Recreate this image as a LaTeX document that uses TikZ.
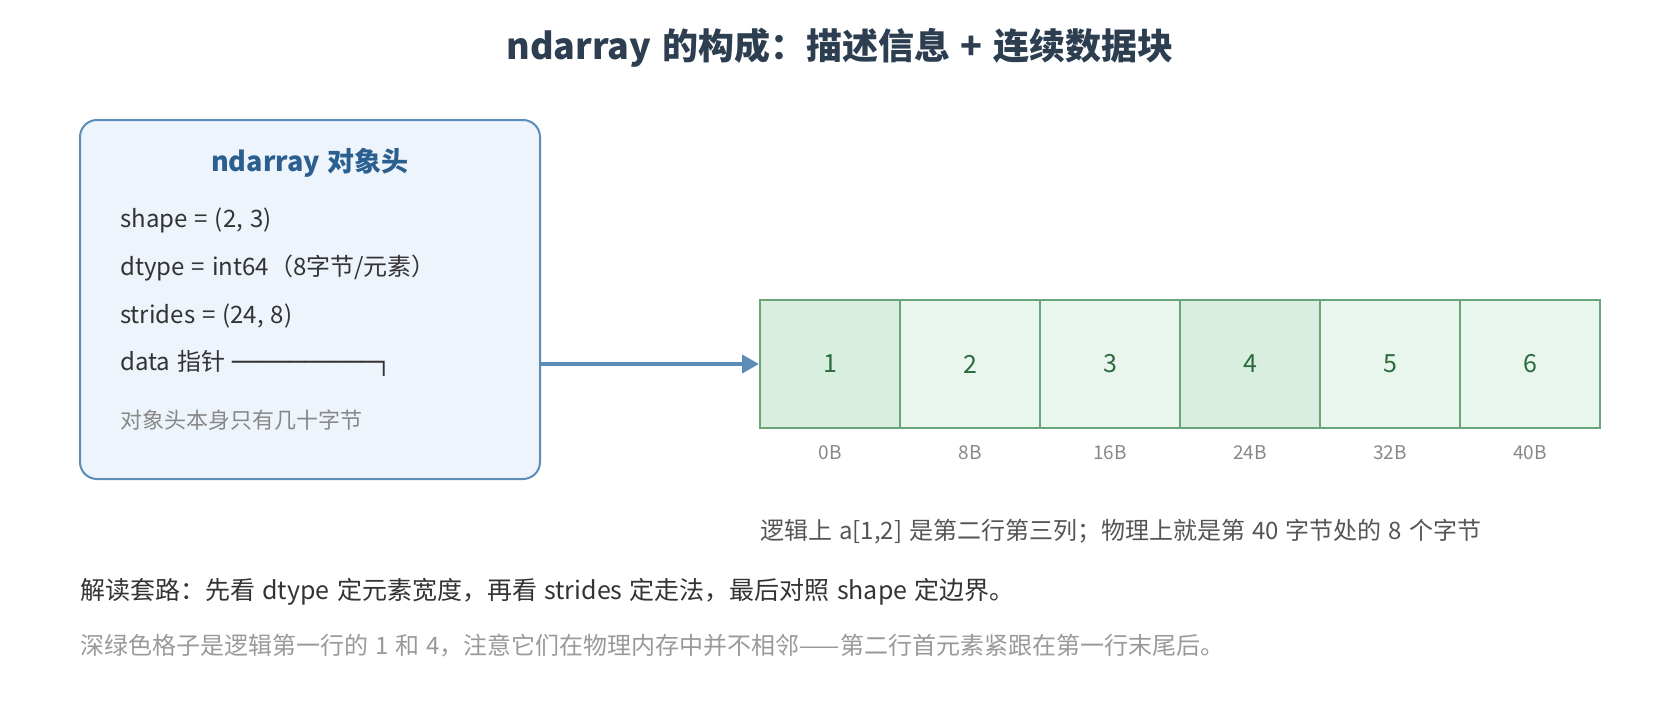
\documentclass[tikz,border=0pt]{standalone}
\usepackage{fontspec}
\setmainfont[WordSpace=1.3]{Noto Sans CJK SC}
\newfontfamily\boxfont{DejaVu Sans}
\usepackage{tikz}
\usetikzlibrary{arrows.meta}
\definecolor{titleink}{RGB}{44,62,80}
\definecolor{hdrblue}{RGB}{91,141,184}
\definecolor{hdrfill}{RGB}{238,244,251}
\definecolor{hdrtitle}{RGB}{42,95,143}
\definecolor{bodyink}{RGB}{51,51,51}
\definecolor{logicink}{RGB}{85,85,85}
\definecolor{noteink}{RGB}{136,136,136}
\definecolor{hintink}{RGB}{153,153,153}
\definecolor{cellgreen}{RGB}{106,165,122}
\definecolor{celldark}{RGB}{216,238,222}
\definecolor{celllight}{RGB}{233,246,237}
\definecolor{digitgreen}{RGB}{45,106,62}

\begin{document}
\begin{tikzpicture}[x=1pt, y=-1pt,
	field/.style={anchor=west, inner sep=0pt, text=bodyink, font=\fontsize{24pt}{29pt}\selectfont},
	cell/.style={draw=cellgreen, line width=2pt, minimum width=140pt, minimum height=128pt, inner sep=0pt, text=digitgreen, font=\fontsize{25pt}{29pt}\selectfont},
	offset/.style={inner sep=0pt, text=noteink, font=\fontsize{19pt}{22pt}\selectfont}]

	\useasboundingbox (0,0) rectangle (1680,720);

	% title
	\node[font=\fontsize{36pt}{40pt}\selectfont\bfseries, text=titleink] (title) at (840,48) {ndarray 的构成：描述信息 + 连续数据块};

	% header box
	\node[draw=hdrblue, fill=hdrfill, line width=2pt, rounded corners=17pt, minimum width=460pt, minimum height=359pt] (hdr) at (310,299.5) {};
	\node[font=\fontsize{27pt}{31pt}\selectfont\bfseries, text=hdrtitle] (hdrname) at (310,163) {ndarray 对象头};

	\node[field] (shape) at (120,220) {shape = (2, 3)};
	\node[field] (dtype) at (120,268) {dtype = int64（8字节/元素）};
	\node[field] (strides) at (120,316) {strides = (24, 8)};
	\node[field] (ptr) at (120,363) {data 指针 {\boxfont\fontsize{24pt}{29pt}\selectfont ──────────┐}};
	\node[field, text=noteink, font=\fontsize{22pt}{26pt}\selectfont] (size) at (120,420) {对象头本身只有几十字节};

	% data block
	\node[cell, fill=celldark] (c1) at (830,364) {1};
	\node[cell, fill=celllight] (c2) at (970,364) {2};
	\node[cell, fill=celllight] (c3) at (1110,364) {3};
	\node[cell, fill=celldark] (c4) at (1250,364) {4};
	\node[cell, fill=celllight] (c5) at (1390,364) {5};
	\node[cell, fill=celllight] (c6) at (1530,364) {6};

	\node[offset] (o1) at (830,453) {0B};
	\node[offset] (o2) at (970,453) {8B};
	\node[offset] (o3) at (1110,453) {16B};
	\node[offset] (o4) at (1250,453) {24B};
	\node[offset] (o5) at (1390,453) {32B};
	\node[offset] (o6) at (1530,453) {40B};

	% data pointer
	\draw[line width=4pt, color=hdrblue, -{Triangle[length=17pt, width=18pt]}] (hdr.east |- c1.west) -- (c1.west);

	% notes
	\node[field, text=logicink, font=\fontsize{24pt}{28pt}\selectfont] (logic) at (760,532) {逻辑上 a[1,2] 是第二行第三列；物理上就是第 40 字节处的 8 个字节};
	\node[field, font=\fontsize{25pt}{30pt}\selectfont] (howto) at (80,592) {解读套路：先看 dtype 定元素宽度，再看 strides 定走法，最后对照 shape 定边界。};
	\node[field, text=hintink, font=\fontsize{24pt}{28pt}\selectfont] (hint) at (80,646) {深绿色格子是逻辑第一行的 1 和 4，注意它们在物理内存中并不相邻——第二行首元素紧跟在第一行末尾后。};

\end{tikzpicture}
\end{document}
